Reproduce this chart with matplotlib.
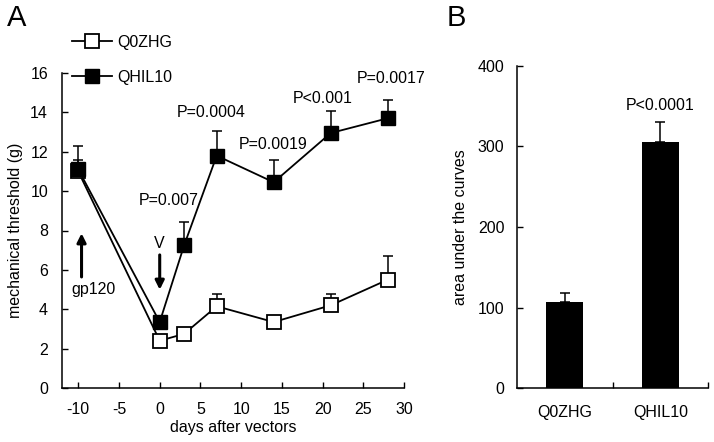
import matplotlib
matplotlib.use("Agg")
import matplotlib.pyplot as plt
import numpy as np

plt.rcParams['font.family'] = ['Liberation Sans', 'DejaVu Sans']
plt.rcParams['axes.unicode_minus'] = False

# ---- data ----
days = [-10, 0, 3, 7, 14, 21, 28]
q0zhg = [11.0, 2.4, 2.75, 4.15, 3.35, 4.2, 5.5]
q0zhg_err = [0.6, 0.15, 0.25, 0.6, 0.3, 0.6, 1.2]
qhil10 = [11.1, 3.35, 7.25, 11.8, 10.45, 12.95, 13.7]
qhil10_err = [1.2, 0.15, 1.2, 1.25, 1.15, 1.1, 0.95]
p_labels = ["P=0.007", "P=0.0004", "P=0.0019", "P<0.001", "P=0.0017"]
p_x = [1.1, 6.3, 13.9, 20.0, 28.4]
p_y = [9.5, 14.0, 12.35, 14.7, 15.7]

groups = ["Q0ZHG", "QHIL10"]
auc = [107, 306]
auc_err = [11, 24]
auc_p = "P<0.0001"

FS = 11.5
W, H = 714, 442
fig = plt.figure(figsize=(W / 100, H / 100), dpi=100)

# ---- panel A ----
axA = fig.add_axes([62 / W, 1 - 388 / H, (404 - 62) / W, (388 - 73) / H])
zero = np.zeros(len(days))
axA.errorbar(days, q0zhg, yerr=[zero, q0zhg_err], fmt='none', ecolor='black',
             elinewidth=1.1, capsize=3.5, capthick=1.1, zorder=2)
axA.errorbar(days, qhil10, yerr=[zero, qhil10_err], fmt='none', ecolor='black',
             elinewidth=1.1, capsize=3.5, capthick=1.1, zorder=2)
hA, = axA.plot(days, q0zhg, '-s', color='black', markerfacecolor='white',
               markeredgecolor='black', markersize=9.5, markeredgewidth=1.3,
               linewidth=1.3, zorder=3, label='Q0ZHG')
hB, = axA.plot(days, qhil10, '-s', color='black', markerfacecolor='black',
               markeredgecolor='black', markersize=9.5, linewidth=1.3,
               zorder=4, label='QHIL10')

axA.set_xlim(-12, 30)
axA.set_ylim(0, 16)
axA.set_xticks(range(-10, 31, 5))
axA.set_yticks(range(0, 17, 2))
axA.tick_params(direction='in', length=4, width=1, labelsize=FS, pad=10)
axA.tick_params(axis='x', pad=10)
for s in ['top', 'right']:
    axA.spines[s].set_visible(False)
for s in ['left', 'bottom']:
    axA.spines[s].set_linewidth(1.1)
axA.set_xlabel('days after vectors', fontsize=FS, labelpad=2)
axA.set_ylabel('mechanical threshold (g)', fontsize=FS, labelpad=5)

for lab, x, y in zip(p_labels, p_x, p_y):
    axA.text(x, y, lab, ha='center', va='center', fontsize=FS)

axA.annotate('', xy=(-9.6, 8.0), xytext=(-9.6, 5.5),
             arrowprops=dict(arrowstyle='-|>', color='black', lw=2.2,
                             mutation_scale=13))
axA.text(-10.9, 5.0, 'gp120', ha='left', va='center', fontsize=FS)
axA.annotate('', xy=(0, 4.85), xytext=(0, 6.9),
             arrowprops=dict(arrowstyle='-|>', color='black', lw=2.2,
                             mutation_scale=13))
axA.text(0, 7.35, 'V', ha='center', va='center', fontsize=FS)

leg = axA.legend(handles=[hA, hB], loc='upper left',
                 bbox_to_anchor=(72 / W, 1 - 35 / H), bbox_transform=fig.transFigure,
                 frameon=False, fontsize=FS, handlelength=2.5, handletextpad=0.35,
                 labelspacing=1.25, borderpad=0, borderaxespad=0)

fig.text(7 / W, 1 - 18 / H, 'A', fontsize=21, ha='left', va='center')

# ---- panel B ----
axB = fig.add_axes([517 / W, 1 - 388 / H, (708 - 517) / W, (388 - 66) / H])
xpos = np.arange(len(groups))
axB.bar(xpos, auc, width=0.39, color='black', zorder=2)
axB.errorbar(xpos, auc, yerr=[np.zeros(len(auc)), auc_err], fmt='none',
             ecolor='black', elinewidth=1.1, capsize=3.5, capthick=1.1, zorder=1)
axB.set_xlim(-0.5, 1.5)
axB.set_ylim(0, 400)
axB.set_yticks(range(0, 401, 100))
axB.set_xticks(xpos)
axB.set_xticklabels(groups)
axB.set_xticks([0.5, 1.5], minor=True)
axB.tick_params(axis='x', which='major', length=0, labelsize=FS, pad=12)
axB.tick_params(axis='x', which='minor', direction='in', length=4, width=1)
axB.tick_params(axis='y', direction='in', length=4, width=1, labelsize=FS, pad=9)
for s in ['top', 'right']:
    axB.spines[s].set_visible(False)
for s in ['left', 'bottom']:
    axB.spines[s].set_linewidth(1.1)
axB.set_ylabel('area under the curves', fontsize=FS, labelpad=7)
axB.text(1, 351, auc_p, ha='center', va='center', fontsize=FS)

fig.text(447 / W, 1 - 18 / H, 'B', fontsize=21, ha='left', va='center')

fig.savefig('out.png', dpi=100)
